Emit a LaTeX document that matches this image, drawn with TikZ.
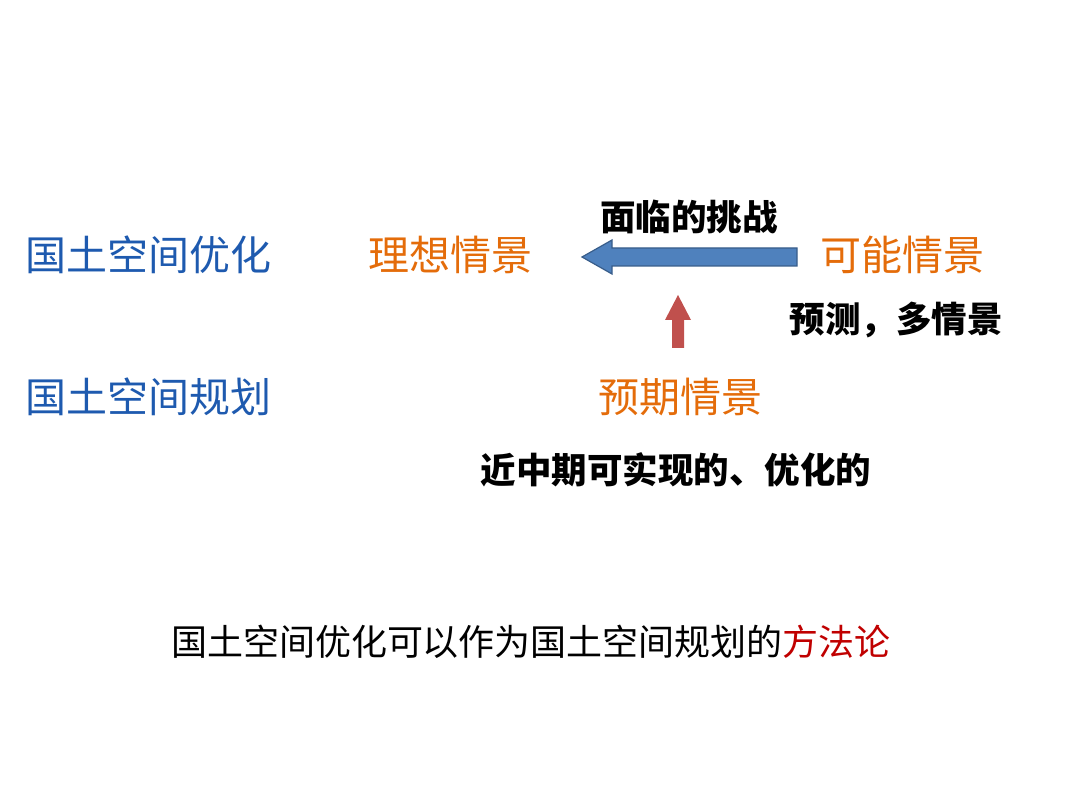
\documentclass[tikz,border=0pt]{standalone}
\usepackage{fontspec}
\newfontfamily\cjk{Noto Sans CJK SC}
\definecolor{tblue}{RGB}{30,90,175}
\definecolor{torange}{RGB}{228,108,10}
\definecolor{tred}{RGB}{192,0,0}
\definecolor{ablue}{RGB}{79,129,189}
\definecolor{ablueb}{RGB}{56,93,138}
\definecolor{ared}{RGB}{192,80,77}
\begin{document}
\begin{tikzpicture}[x=1pt,y=-1pt,
  lab/.style={font=\cjk\fontsize{41}{48}\selectfont,inner sep=0pt},
  blab/.style={font=\cjk\bfseries\fontsize{35.5}{42}\selectfont,inner sep=0pt,text=black}]
\useasboundingbox (0,0) rectangle (1080,810);
\node[lab,text=tblue,anchor=west] (a) at (25,255) {国土空间优化};
\node[lab,text=tblue,anchor=west] (b) at (25,397) {国土空间规划};
\node[lab,text=torange] (c) at (450,255) {理想情景};
\node[lab,text=torange] (d) at (902,255) {可能情景};
\node[lab,text=torange] (e) at (680,397) {预期情景};
\node[blab] (f) at (689,217) {面临的挑战};
\node[blab] (g) at (896,320) {预测，多情景};
\node[blab] (h) at (676,470) {近中期可实现的、优化的};
\node[lab,text=black,font=\cjk\fontsize{36}{42}\selectfont] (i) at (531,642) {国土空间优化可以作为国土空间规划的\textcolor{tred}{方法论}};
\draw[fill=ablue,draw=ablueb,line width=1.2pt] (797,248) -- (612,248) -- (612,240) -- (582,257) -- (612,274) -- (612,266) -- (797,266) -- cycle;
\fill[ared] (672,348) -- (672,320) -- (665,320) -- (678,295) -- (691,320) -- (684,320) -- (684,348) -- cycle;
\end{tikzpicture}
\end{document}
